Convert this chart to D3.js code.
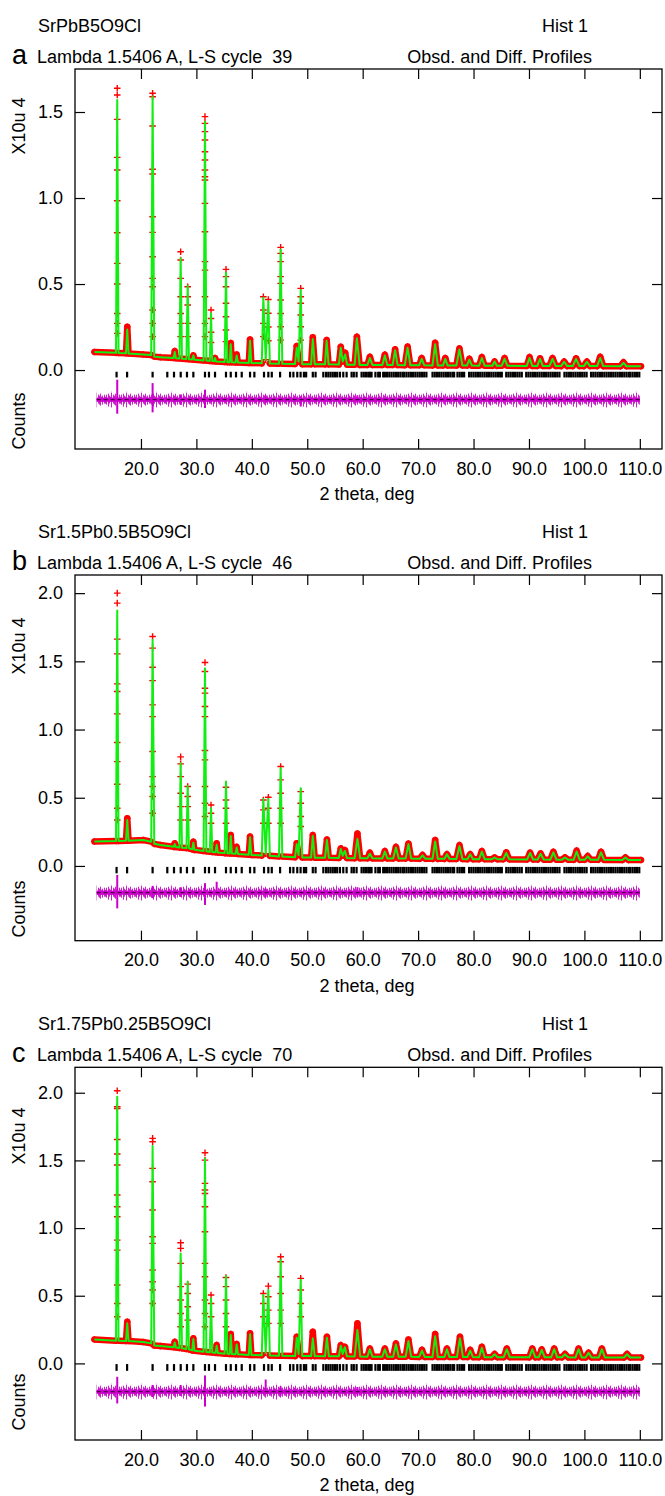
<!DOCTYPE html>
<html>
<head>
<meta charset="utf-8">
<script src="https://cdn.jsdelivr.net/npm/d3@7"></script>
<style>
  body { margin: 0; background: #fff; }
  svg { display: block; font-family: "Liberation Sans", Arial, sans-serif; }
  .frame { fill: none; stroke: #000; stroke-width: 1.3; }
  .axis line { stroke-width: 1.2; }
  .lbl { font-size: 18px; fill: #000; white-space: pre; }
  .letter { font-size: 27px; }
  .obs-band { fill: none; stroke: #ff0000; stroke-width: 6.5; stroke-linecap: round; stroke-linejoin: round; }
  .calc { fill: none; stroke: #11ee11; stroke-width: 2; stroke-linejoin: round; }
  .plus { fill: none; stroke: #ff0000; stroke-width: 1.4; }
  .hkl { fill: #000; }
  .diff-core { stroke: #cc00cc; stroke-width: 4; }
  .diff-mid { stroke: #330033; stroke-width: 1; stroke-dasharray: 4 3; }
  .spike { stroke: #cc00cc; stroke-width: 2; }
</style>
</head>
<body>
<svg id="chart" width="665" height="1496"></svg>
<script>
// ---- data (intensities in units of 10^4 counts) ----
const titles = ["SrPbB5O9Cl", "Sr1.5Pb0.5B5O9Cl", "Sr1.75Pb0.25B5O9Cl"];
const letters = ["a", "b", "c"];
const cycles = [39, 46, 70];
const xTicks = [20, 30, 40, 50, 60, 70, 80, 90, 100, 110];
const yTicksA = [0, 0.5, 1.0, 1.5];
const yTicksBC = [0, 0.5, 1.0, 1.5, 2.0];
const diffLevels = [-0.172, -0.196, -0.209];
const diffRange = [12.0, 110.0];

// profile vertices: [2theta, observed, calculated]
const profA = [
  [11.6,.105,.105],
  [15.5,.100,.100],[15.72,1.638,1.57],[15.95,.099,.099],
  [17.3,.097,.097],[17.53,.252,.235],[17.76,.096,.096],
  [20.4,.091,.091],
  [21.85,.088,.088],[22.1,1.609,1.59],[22.4,.078,.078],
  [23.5,.075,.075],
  [25.9,.070,.070],[26.1,.11,.105],[26.3,.069,.069],
  [26.95,.067,.067],[27.16,.688,.65],[27.4,.066,.066],
  [28.2,.064,.064],[28.43,.484,.49],[28.65,.063,.063],
  [29.25,.061,.061],[29.45,.085,.085],[29.65,.060,.060],
  [31.3,.056,.056],[31.55,1.473,1.444],[31.8,.055,.055],
  [32.42,.053,.053],[32.64,.349,.33],[32.86,.052,.052],
  [33.2,.051,.051],[33.36,.07,.07],[33.55,.050,.050],
  [35.1,.047,.047],[35.34,.585,.565],[35.58,.046,.046],
  [36.0,.046,.046],[36.2,.157,.15],[36.4,.045,.045],
  [37.05,.044,.044],[37.27,.09,.085],[37.5,.044,.044],
  [39.45,.041,.041],[39.68,.178,.17],[39.92,.041,.041],
  [41.8,.039,.039],[42.08,.426,.42],[42.5,.06,.06],[42.98,.41,.40],[43.25,.038,.038],
  [44.9,.037,.037],[45.2,.713,.70],[45.5,.037,.037],
  [47.8,.035,.035],[48.1,.14,.13],[48.45,.05,.05],[48.82,.475,.465],[49.1,.034,.034],
  [50.7,.034,.034],[51.0,.19,.18],[51.35,.034,.034],
  [53.2,.033,.033],[53.5,.175,.17],[53.85,.033,.033],
  [55.7,.032,.032],[56.05,.135,.13],[56.4,.05,.05],[56.85,.10,.09],[57.2,.031,.031],
  [58.55,.031,.031],[58.95,.194,.185],[59.45,.030,.030],
  [60.85,.030,.030],[61.3,.077,.07],[61.75,.030,.030],
  [63.55,.029,.029],[64.0,.09,.085],[64.45,.029,.029],
  [65.4,.029,.029],[65.85,.12,.115],[66.3,.029,.029],
  [67.6,.028,.028],[68.1,.136,.13],[68.6,.028,.028],
  [70.2,.028,.028],[70.65,.07,.065],[71.1,.028,.028],
  [72.6,.027,.027],[73.07,.159,.15],[73.55,.027,.027],
  [74.5,.027,.027],[74.9,.07,.065],[75.3,.027,.027],
  [76.9,.026,.026],[77.45,.126,.12],[78.0,.026,.026],
  [78.8,.026,.026],[79.25,.065,.06],[79.7,.026,.026],
  [81.0,.025,.025],[81.5,.075,.07],[82.0,.025,.025],
  [83.4,.025,.025],[83.8,.05,.05],[84.2,.025,.025],
  [85.1,.025,.025],[85.6,.07,.065],[86.1,.025,.025],
  [89.6,.024,.024],[90.1,.075,.07],[90.6,.024,.024],
  [91.5,.024,.024],[92.0,.068,.065],[92.5,.024,.024],
  [93.7,.024,.024],[94.25,.07,.065],[94.8,.024,.024],
  [95.8,.023,.023],[96.35,.05,.048],[96.9,.023,.023],
  [97.9,.023,.023],[98.5,.068,.065],[99.1,.023,.023],
  [99.9,.023,.023],[100.45,.05,.048],[101.0,.023,.023],
  [102.3,.023,.023],[102.85,.077,.07],[103.4,.023,.023],
  [106.5,.022,.022],[107.05,.045,.042],[107.6,.022,.022],
  [110.2,.022,.022]
];

const profB = [
  [11.6,.180,.180],
  [15.5,.183,.183],[15.72,2.0,1.873],[15.95,.183,.183],
  [17.3,.185,.185],[17.53,.35,.337],[17.76,.185,.185],
  [20.4,.19,.19],
  [21.85,.178,.178],[22.1,1.682,1.658],[22.4,.162,.162],
  [23.5,.154,.154],
  [25.9,.14,.14],[26.1,.166,.16],[26.3,.139,.139],
  [26.95,.136,.136],[27.16,.80,.753],[27.4,.134,.134],
  [28.2,.131,.131],[28.43,.582,.587],[28.65,.129,.129],
  [29.25,.122,.122],[29.45,.178,.17],[29.65,.118,.118],
  [31.3,.11,.11],[31.55,1.491,1.45],[31.8,.108,.108],
  [32.42,.104,.104],[32.64,.447,.423],[32.86,.102,.102],
  [33.45,.10,.10],[33.66,.166,.155],[33.87,.098,.098],
  [35.1,.094,.094],[35.34,.577,.619],[35.58,.093,.093],
  [36.0,.092,.092],[36.2,.227,.22],[36.4,.091,.091],
  [37.05,.089,.089],[37.27,.14,.135],[37.5,.088,.088],
  [39.45,.082,.082],[39.68,.215,.21],[39.92,.081,.081],
  [41.8,.076,.076],[42.08,.484,.49],[42.5,.09,.09],[42.98,.504,.49],[43.25,.074,.074],
  [44.9,.07,.07],[45.2,.729,.716],[45.5,.069,.069],
  [47.8,.064,.064],[48.1,.166,.16],[48.45,.08,.08],[48.82,.545,.57],[49.1,.062,.062],
  [50.7,.062,.062],[51.0,.226,.22],[51.35,.061,.061],
  [53.2,.06,.06],[53.55,.194,.19],[53.9,.06,.06],
  [55.7,.059,.059],[56.05,.129,.125],[56.4,.075,.075],[56.8,.117,.11],[57.15,.058,.058],
  [58.55,.057,.057],[59.05,.238,.20],[59.55,.056,.056],
  [60.85,.056,.056],[61.3,.097,.09],[61.75,.056,.056],
  [63.55,.055,.055],[64.0,.109,.105],[64.45,.055,.055],
  [65.5,.055,.055],[66.0,.14,.135],[66.5,.054,.054],
  [67.75,.054,.054],[68.25,.165,.16],[68.75,.054,.054],
  [70.3,.053,.053],[70.8,.08,.078],[71.3,.053,.053],
  [72.6,.052,.052],[73.07,.19,.18],[73.55,.052,.052],
  [74.75,.052,.052],[75.2,.087,.085],[75.65,.052,.052],
  [76.9,.051,.051],[77.46,.153,.145],[78.0,.051,.051],
  [78.9,.05,.05],[79.4,.087,.085],[79.9,.05,.05],
  [81.0,.05,.05],[81.5,.109,.105],[82.0,.05,.05],
  [83.3,.049,.049],[83.8,.063,.062],[84.3,.049,.049],
  [85.35,.049,.049],[85.9,.10,.095],[86.45,.049,.049],
  [89.65,.047,.047],[90.2,.097,.095],[90.75,.047,.047],
  [91.55,.047,.047],[92.1,.092,.09],[92.65,.047,.047],
  [93.85,.046,.046],[94.4,.104,.10],[94.95,.046,.046],
  [95.95,.046,.046],[96.5,.063,.062],[97.05,.046,.046],
  [98.05,.045,.045],[98.6,.112,.105],[99.15,.045,.045],
  [100.05,.045,.045],[100.6,.073,.07],[101.15,.045,.045],
  [102.45,.045,.045],[103.0,.104,.10],[103.55,.045,.045],
  [106.85,.044,.044],[107.4,.063,.062],[107.95,.044,.044],
  [110.2,.044,.044]
];

const profC = [
  [11.6,.177,.177],
  [15.5,.168,.168],[15.72,2.015,1.97],[15.95,.168,.168],
  [17.3,.165,.165],[17.53,.308,.296],[17.76,.165,.165],
  [20.4,.158,.158],
  [21.85,.148,.148],[22.1,1.663,1.606],[22.4,.132,.132],
  [23.5,.128,.128],
  [25.9,.119,.119],[26.1,.16,.155],[26.3,.118,.118],
  [26.95,.114,.114],[27.16,.892,.813],[27.4,.112,.112],
  [28.2,.106,.106],[28.43,.586,.603],[28.65,.104,.104],
  [29.25,.096,.096],[29.45,.185,.18],[29.65,.094,.094],
  [31.3,.086,.086],[31.55,1.557,1.515],[31.8,.085,.085],
  [32.42,.082,.082],[32.64,.505,.48],[32.86,.081,.081],
  [33.45,.078,.078],[33.66,.135,.13],[33.87,.077,.077],
  [35.1,.072,.072],[35.34,.635,.645],[35.58,.071,.071],
  [36.0,.07,.07],[36.2,.217,.21],[36.4,.069,.069],
  [37.05,.068,.068],[37.27,.143,.14],[37.5,.067,.067],
  [39.45,.063,.063],[39.68,.222,.215],[39.92,.062,.062],
  [41.8,.06,.06],[42.08,.517,.505],[42.5,.08,.08],[42.98,.571,.542],[43.25,.058,.058],
  [44.9,.056,.056],[45.2,.788,.764],[45.5,.056,.056],
  [47.8,.054,.054],[48.1,.197,.19],[48.45,.07,.07],[48.82,.628,.616],[49.1,.054,.054],
  [50.7,.054,.054],[51.0,.234,.185],[51.35,.054,.054],
  [53.2,.053,.053],[53.55,.197,.19],[53.9,.053,.053],
  [55.7,.052,.052],[56.05,.135,.13],[56.4,.07,.07],[56.8,.123,.12],[57.15,.052,.052],
  [58.55,.051,.051],[59.05,.296,.246],[59.55,.051,.051],
  [60.85,.05,.05],[61.3,.11,.105],[61.75,.05,.05],
  [63.55,.05,.05],[64.0,.11,.105],[64.45,.05,.05],
  [65.5,.049,.049],[66.0,.148,.14],[66.5,.049,.049],
  [67.75,.049,.049],[68.25,.177,.165],[68.75,.049,.049],
  [70.2,.048,.048],[70.7,.10,.095],[71.2,.048,.048],
  [72.6,.048,.048],[73.07,.217,.20],[73.55,.048,.048],
  [74.75,.047,.047],[75.2,.11,.105],[75.65,.047,.047],
  [77.0,.047,.047],[77.55,.197,.185],[78.1,.047,.047],
  [78.9,.047,.047],[79.4,.10,.095],[79.9,.047,.047],
  [81.0,.046,.046],[81.5,.123,.115],[82.0,.046,.046],
  [83.3,.046,.046],[83.8,.07,.068],[84.3,.046,.046],
  [85.45,.046,.046],[86.0,.11,.105],[86.55,.046,.046],
  [90.05,.045,.045],[90.6,.11,.105],[91.15,.045,.045],
  [91.75,.045,.045],[92.3,.103,.10],[92.85,.045,.045],
  [94.0,.045,.045],[94.55,.11,.105],[95.1,.045,.045],
  [95.95,.045,.045],[96.5,.07,.068],[97.05,.045,.045],
  [98.4,.044,.044],[98.95,.11,.105],[99.5,.044,.044],
  [100.2,.044,.044],[100.75,.08,.078],[101.3,.044,.044],
  [102.6,.044,.044],[103.15,.11,.105],[103.7,.044,.044],
  [107.15,.044,.044],[107.7,.07,.068],[108.25,.044,.044],
  [110.2,.044,.044]
];

// observed points seen on the flanks of the strong peaks: [2theta, [heights]]
const flankA = [
  [15.72,[1.599,1.457,1.236,1.163,0.984,0.798,0.62,0.5,0.329,0.271,0.213]],
  [22.1,[1.589,1.419,1.167,1.14,0.891,0.8,0.659,0.533,0.484,0.349,0.271,0.194]],
  [31.55,[1.434,1.386,1.337,1.269,1.221,1.163,1.124,1.105,0.969,0.804,0.63,0.581,0.426,0.271,0.194]],
  [27.16,[0.64,0.533,0.426,0.329,0.271,0.194]],
  [28.43,[0.426,0.378,0.271,0.194]],
  [32.64,[0.3,0.22,0.16]],
  [35.34,[0.543,0.484,0.388,0.31,0.233,0.165]],
  [42.08,[0.349,0.271,0.194]],
  [42.98,[0.33,0.25,0.17]],
  [45.2,[0.678,0.63,0.543,0.504,0.407,0.329,0.252,0.174]],
  [48.82,[0.426,0.388,0.32,0.252,0.174]]
];
const flankB = [
  [15.72,[1.927,1.663,1.555,1.335,1.279,1.115,0.905,0.765,0.599,0.423,0.337]],
  [22.1,[1.597,1.457,1.359,1.181,1.095,0.839,0.655,0.582,0.509,0.386]],
  [31.55,[1.425,1.303,1.267,1.169,1.095,0.846,0.778,0.582,0.46,0.362]],
  [27.16,[0.748,0.655,0.533,0.435,0.337]],
  [28.43,[0.509,0.435,0.337]],
  [32.64,[0.386,0.313]],
  [35.34,[0.484,0.423,0.313]],
  [42.08,[0.411,0.313]],
  [42.98,[0.423,0.313]],
  [45.2,[0.631,0.533,0.423,0.313]],
  [48.82,[0.46,0.362,0.289]]
];
const flankC = [
  [15.72,[1.897,1.884,1.655,1.547,1.466,1.244,1.158,1.084,0.911,0.837,0.579,0.443,0.345]],
  [22.1,[1.638,1.441,1.342,1.133,0.936,0.887,0.69,0.603,0.542,0.443]],
  [31.55,[1.502,1.33,1.281,1.256,1.158,0.973,0.739,0.64,0.468,0.369,0.271]],
  [27.16,[0.85,0.739,0.567,0.468,0.369,0.271]],
  [28.43,[0.517,0.419,0.32]],
  [32.64,[0.443,0.345]],
  [35.34,[0.567,0.468,0.369,0.271]],
  [42.08,[0.443,0.345]],
  [42.98,[0.493,0.394,0.296]],
  [45.2,[0.751,0.64,0.517,0.394,0.296]],
  [48.82,[0.542,0.443,0.345]]
];

// difference curve spikes: [2theta, up, down] relative to the diff level
const spikesA = [[15.72,0.116,-0.082],[22.1,0.096,-0.074],[31.55,0.058,-0.049],[27.16,0.03,-0.03],[42.5,0.025,-0.02],[48.82,0.02,-0.04],[59.05,0.025,-0.02]];
const spikesB = [[15.72,0.13,-0.115],[22.1,0.05,-0.04],[31.55,0.07,-0.09],[33.66,0.08,-0.02],[27.16,0.04,-0.03],[42.5,0.03,-0.03],[59.05,0.04,-0.03]];
const spikesC = [[15.72,0.11,-0.087],[22.1,0.05,-0.04],[31.55,0.12,-0.11],[42.5,0.09,-0.02],[27.16,0.05,-0.03],[59.05,0.035,-0.03],[45.2,0.04,-0.03]];

// reflection positions (2theta)
const hklPos = [15.6,17.5,22.1,24.75,25.96,27.17,28.3,29.45,31.55,32.27,33.36,35.34,36.2,37.15,38.18,39.68,40.46,42.2,42.98,43.6,45.1,
  46.9,47.5,48.2,48.8,49.4,49.8,51.0,51.5,52.9,53.4,53.8,54.2,54.6,55.0,55.4,55.9,56.5,57.1,58.0,58.4,58.9,59.8,60.2,60.6,61.0,61.3,61.6,
  62.3,62.8,63.1,63.7,64.0,64.4,64.8,65.2,65.6,66.0,66.4,66.8,67.2,67.5,67.9,68.3,68.7,69.1,69.5,69.9,70.3,70.7,71.1,71.5,
  72.6,73.0,73.4,73.8,74.2,74.6,75.0,75.4,75.8,76.2,76.5,77.1,77.5,77.9,78.3,79.2,79.6,80.0,80.4,80.8,81.2,81.6,82.0,82.4,82.8,
  83.2,83.6,84.0,84.4,84.8,85.1,85.9,86.3,86.7,87.1,87.5,87.9,88.3,88.7,89.5,89.9,90.3,90.7,91.1,91.5,91.9,92.3,92.7,93.1,93.5,
  93.9,94.3,94.7,95.1,95.5,96.4,96.8,97.2,97.6,98.0,98.4,98.8,99.2,99.6,100.0,100.4,101.2,101.6,102.0,102.4,102.8,103.2,103.6,
  104.0,104.4,104.8,105.2,105.6,106.0,106.4,106.8,107.2,107.6,108.0,108.3,108.7,109.1,109.5,109.9];

// ---- layout ----
const panels = [
  {i: 0, prof: profA, flank: flankA, spikes: spikesA, yTicks: yTicksA,
   top: 69, bottom: 449, yDomain: [-0.459, 1.75], tickRow: [-0.01, -0.043], yLabelY: 126, countsY: 421},
  {i: 1, prof: profB, flank: flankB, spikes: spikesB, yTicks: yTicksBC,
   top: 575, bottom: 940.7, yDomain: [-0.548, 2.133], tickRow: [-0.007, -0.054], yLabelY: 646, countsY: 909},
  {i: 2, prof: profC, flank: flankC, spikes: spikesC, yTicks: yTicksBC,
   top: 1067.3, bottom: 1440, yDomain: [-0.566, 2.188], tickRow: [-0.005, -0.055], yLabelY: 1136, countsY: 1402}
];

const svg = d3.select("#chart");
const x = d3.scaleLinear().domain([8.1, 114.0]).range([75, 662]);
const fmt = d3.format(".1f");

// noisy texture for the difference profile
const noiseLen = [3,5,2,6,4,3,7,2,5,4,6,3,4,2,5];
const pat = svg.append("defs").append("pattern")
    .attr("id", "noise").attr("patternUnits", "userSpaceOnUse")
    .attr("width", noiseLen.length).attr("height", 16);
noiseLen.forEach((h, k) => {
  pat.append("line")
    .attr("x1", k + 0.5).attr("x2", k + 0.5)
    .attr("y1", 8 - h).attr("y2", 8 + h - (k % 3) + 1)
    .attr("stroke", "#cc22cc").attr("stroke-width", 1);
});

panels.forEach(drawPanel);

function drawPanel(p) {
  const y = d3.scaleLinear().domain(p.yDomain).range([p.bottom, p.top]);
  const g = svg.append("g");

  // header texts
  g.append("text").attr("class", "lbl").attr("x", 38).attr("y", p.top - 37).text(titles[p.i]);
  g.append("text").attr("class", "lbl").attr("x", 588).attr("y", p.top - 37)
      .attr("text-anchor", "end").text("Hist 1");
  g.append("text").attr("class", "lbl letter").attr("x", 12).attr("y", p.top - 5).text(letters[p.i]);
  g.append("text").attr("class", "lbl").attr("x", 37).attr("y", p.top - 6)
      .text("Lambda 1.5406 A, L-S cycle  " + cycles[p.i]);
  g.append("text").attr("class", "lbl").attr("x", 592).attr("y", p.top - 6)
      .attr("text-anchor", "end").text("Obsd. and Diff. Profiles");

  // axis titles
  g.append("text").attr("class", "lbl").attr("text-anchor", "middle")
      .attr("transform", `translate(25,${p.yLabelY}) rotate(-90)`).text("X10u 4");
  g.append("text").attr("class", "lbl").attr("text-anchor", "middle")
      .attr("transform", `translate(25,${p.countsY}) rotate(-90)`).text("Counts");
  g.append("text").attr("class", "lbl").attr("text-anchor", "middle")
      .attr("x", 367).attr("y", p.bottom + 51).text("2 theta, deg");

  // axes with inward ticks on all four sides
  const styleAxis = sel => sel.attr("font-size", 18).attr("font-family", null)
      .call(s => s.select(".domain").remove());
  g.append("g").attr("class", "axis").attr("transform", `translate(0,${p.bottom})`)
      .call(d3.axisBottom(x).tickValues(xTicks).tickSize(-10).tickPadding(13).tickFormat(fmt))
      .call(styleAxis);
  g.append("g").attr("class", "axis").attr("transform", `translate(0,${p.top})`)
      .call(d3.axisTop(x).tickValues(xTicks).tickSize(-10).tickFormat(""))
      .call(styleAxis);
  g.append("g").attr("class", "axis").attr("transform", "translate(75,0)")
      .call(d3.axisLeft(y).tickValues(p.yTicks).tickSize(-10).tickPadding(12).tickFormat(fmt))
      .call(styleAxis);
  g.append("g").attr("class", "axis").attr("transform", "translate(662,0)")
      .call(d3.axisRight(y).tickValues(p.yTicks).tickSize(-10).tickFormat(""))
      .call(styleAxis);
  g.append("rect").attr("class", "frame")
      .attr("x", 75).attr("y", p.top).attr("width", 662 - 75).attr("height", p.bottom - p.top);

  // difference profile
  const lvl = diffLevels[p.i];
  const dg = g.append("g");
  dg.append("g").attr("transform", `translate(0,${y(lvl) - 8})`)
    .append("rect").attr("x", x(diffRange[0])).attr("y", 0)
      .attr("width", x(diffRange[1]) - x(diffRange[0])).attr("height", 16)
      .attr("fill", "url(#noise)");
  dg.append("line").attr("class", "diff-core")
      .attr("x1", x(diffRange[0])).attr("x2", x(diffRange[1]))
      .attr("y1", y(lvl)).attr("y2", y(lvl));
  dg.selectAll(".spike").data(p.spikes).join("line").attr("class", "spike")
      .attr("x1", d => x(d[0])).attr("x2", d => x(d[0]))
      .attr("y1", d => y(lvl + d[1])).attr("y2", d => y(lvl + d[2]));
  dg.append("line").attr("class", "diff-mid")
      .attr("x1", x(diffRange[0])).attr("x2", x(diffRange[1]))
      .attr("y1", y(lvl)).attr("y2", y(lvl));

  // reflection markers
  g.selectAll(".hkl").data(hklPos).join("rect").attr("class", "hkl")
      .attr("x", d => x(d) - 1.1).attr("width", 2.2)
      .attr("y", y(p.tickRow[0])).attr("height", y(p.tickRow[1]) - y(p.tickRow[0]));

  // observed band: dense points merge into a thick red band except on steep flanks
  const obsLine = d3.line().x(d => x(d[0])).y(d => y(d[1]));
  const segs = [];
  for (let k = 0; k < p.prof.length - 1; k++) {
    const a = p.prof[k], b = p.prof[k + 1];
    if (Math.abs(y(a[1]) - y(b[1])) < 40) segs.push([a, b]);
  }
  g.append("path").attr("class", "obs-band").attr("d", segs.map(obsLine).join(""));

  // observed "+" marks
  const plus = "M-3.3,0H3.3M0,-3.3V3.3";
  const marks = p.prof.map(d => [d[0], d[1]]);
  p.flank.forEach(f => f[1].forEach(h => marks.push([f[0], h])));
  g.selectAll(".plus").data(marks).join("path").attr("class", "plus")
      .attr("transform", d => `translate(${x(d[0])},${y(d[1])})`).attr("d", plus);

  // calculated profile
  g.append("path").attr("class", "calc")
      .attr("d", d3.line().x(d => x(d[0])).y(d => y(d[2]))(p.prof));
}
</script>
</body>
</html>
